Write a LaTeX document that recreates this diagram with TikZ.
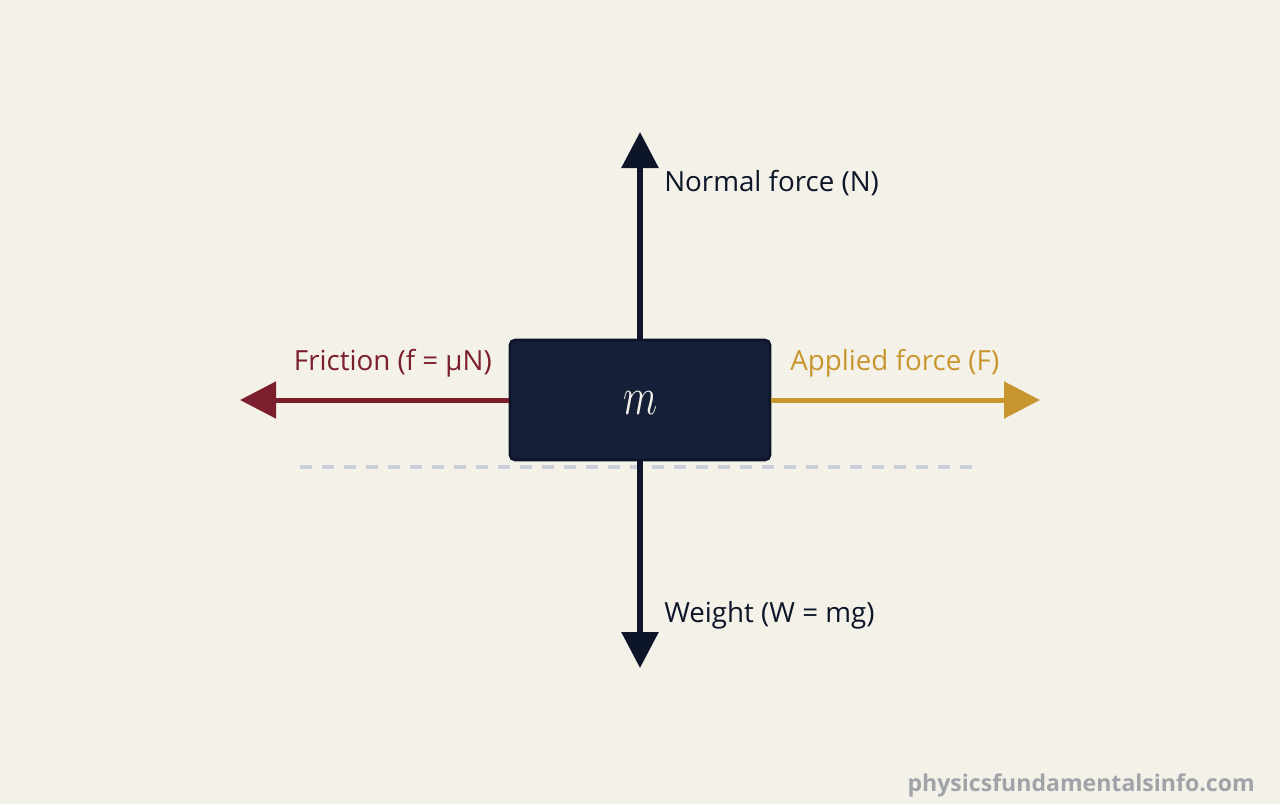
\documentclass[tikz,border=0pt]{standalone}
\usepackage{fontspec}
\setmainfont{Open Sans}
\usetikzlibrary{arrows.meta}
\definecolor{bg}{HTML}{F4F1E9}
\definecolor{navy}{HTML}{0C1628}
\definecolor{boxfill}{HTML}{152038}
\definecolor{fric}{HTML}{7A1F2B}
\definecolor{appl}{HTML}{C8962E}
\definecolor{ground}{HTML}{C9D0DA}
\definecolor{mark}{HTML}{A0A3A8}
\definecolor{cream}{HTML}{F4F1E9}
\tikzset{
  forcearrow/.style={line width=5pt*0.75, -{Triangle[length=27pt, width=27pt]}},
  vertarrow/.style={forcearrow, line width=6pt*0.75},
  lbl/.style={font=\fontsize{20.8}{24}\selectfont, inner sep=0pt},
}
\begin{document}
\begin{tikzpicture}[x=0.75pt, y=-0.75pt]
\useasboundingbox (0,0) rectangle (1280,804);
\fill[bg] (0,0) rectangle (1280,804);
% ground line
\coordinate (g1) at (300,467);
\coordinate (g2) at (972,467);
\draw[ground, line width=3pt, dash pattern=on 9pt off 7.5pt] (g1) -- (g2);
% tips
\coordinate (tipN) at (640,132);
\coordinate (tipW) at (640,668);
\coordinate (tipF) at (240,400);
\coordinate (tipA) at (1040,400);
% box
\node[draw=navy, fill=boxfill, line width=2.2pt, rounded corners=4pt, minimum width=260*0.75pt, minimum height=120*0.75pt, inner sep=0pt] (box) at (640,400) {};
\draw[navy, vertarrow] (box.north) -- (tipN);
\draw[navy, vertarrow] (box.south) -- (tipW);
\draw[fric, forcearrow] (box.west) -- (tipF);
\draw[appl, forcearrow] (box.east) -- (tipA);
\node[text=cream, font=\Huge, inner sep=0pt] (m) at (641,403) {\scalebox{1.2}[1.6]{$m$}};
% labels
\node[lbl, text=navy, anchor=west] (lN) at (664,183) {Normal force (N)};
\node[lbl, text=navy, anchor=west] (lW) at (664,615) {Weight (W = mg)};
\node[lbl, text=fric, anchor=east] (lF) at (492,363) {Friction (f = μN)};
\node[lbl, text=appl, anchor=west] (lA) at (790,363) {Applied force (F)};
\node[text=mark, font=\bfseries\fontsize{17.3}{20}\selectfont, anchor=east, inner sep=0pt] (wm) at (1255,785) {physicsfundamentalsinfo.com};
\end{tikzpicture}
\end{document}
